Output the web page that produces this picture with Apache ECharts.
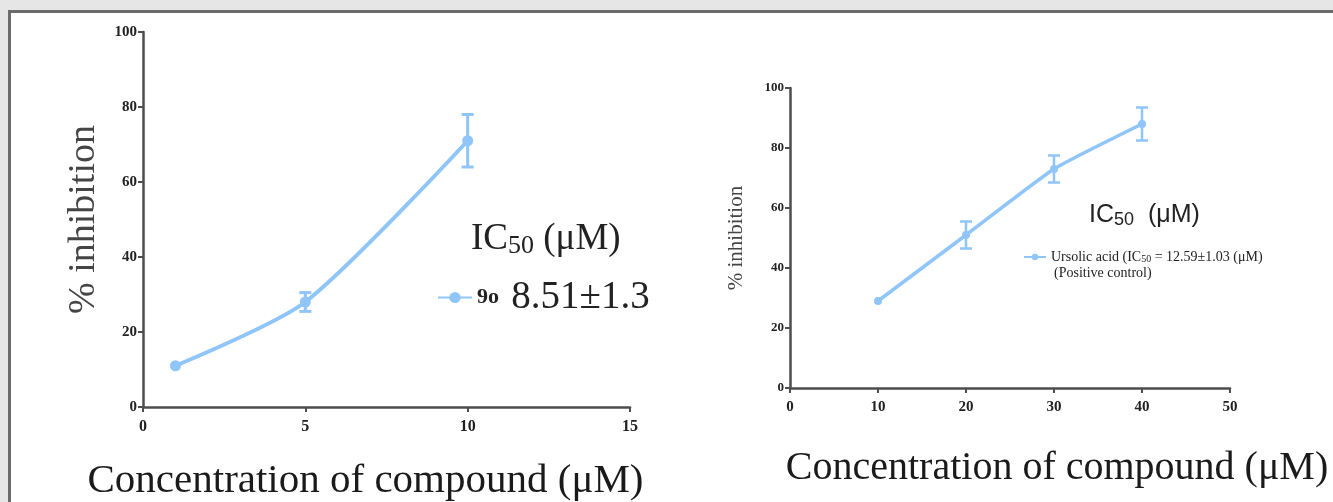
<!DOCTYPE html>
<html>
<head>
<meta charset="utf-8">
<script src="https://cdn.jsdelivr.net/npm/echarts@6/dist/echarts.min.js"></script>
<style>
  html, body { margin: 0; padding: 0; background: #e6e6e6; overflow: hidden; }
  #frame { position: absolute; left: 8px; top: 10px; width: 1400px; height: 600px;
           background: #fff; border-left: 3px solid #6b6b6b; border-top: 3px solid #6b6b6b; }
  #container { position: absolute; left: 0; top: 0; width: 1333px; height: 502px; }
</style>
</head>
<body>
<div id="frame"></div>
<div id="container"></div>
<script>
// compound 9o
var leftConc = [1, 5, 10];
var leftInhib = [11, 28, 71];
var leftErr = [0, 2.5, 7];

// ursolic acid (positive control)
var rightConc = [10, 20, 30, 40];
var rightInhib = [29, 51, 73, 88];
var rightErr = [0, 4.5, 4.5, 5.5];

var blue = '#8fc5f9';
var axisColor = '#4d4d4d';
var serif = '"Liberation Serif", "DejaVu Serif", serif';
var sans = '"Liberation Sans", Arial, sans-serif';

var myChart = echarts.init(document.getElementById('container'));

function errBars(xs, ys, es) {
	return xs.map(function (x, i) {
		return [x, ys[i] - es[i], ys[i] + es[i]];
	});
}

function errRender(cap, lw) {
	return function (params, api) {
		if (api.value(2) - api.value(1) <= 0) return null;
		var top = api.coord([api.value(0), api.value(2)]);
		var bot = api.coord([api.value(0), api.value(1)]);
		var style = { stroke: blue, lineWidth: lw };
		return {
			type: 'group',
			children: [
				{ type: 'line', shape: { x1: top[0], y1: top[1], x2: bot[0], y2: bot[1] }, style: style },
				{ type: 'line', shape: { x1: top[0] - cap, y1: top[1], x2: top[0] + cap, y2: top[1] }, style: style },
				{ type: 'line', shape: { x1: bot[0] - cap, y1: bot[1], x2: bot[0] + cap, y2: bot[1] }, style: style }
			]
		};
	};
}

function xAxis(idx, max, interval, labelSize, nameGap, nameSize, namePad) {
	return {
		type: 'value', gridIndex: idx, min: 0, max: max, interval: interval,
		axisLine: { lineStyle: { color: axisColor, width: 2.5 } },
		axisTick: { lineStyle: { color: axisColor, width: 2 }, length: 5 },
		splitLine: { show: false },
		axisLabel: { fontFamily: serif, fontWeight: 'bold', fontSize: labelSize, color: '#222', margin: 12 },
		name: 'Concentration of compound (μM)', nameLocation: 'middle', nameGap: nameGap,
		nameTextStyle: { fontFamily: serif, fontSize: nameSize, color: '#1a1a1a', padding: namePad }
	};
}

function yAxis(idx, labelSize, nameSize, nameGap) {
	return {
		type: 'value', gridIndex: idx, min: 0, max: 100, interval: 20,
		axisLine: { lineStyle: { color: axisColor, width: 2.5 } },
		axisTick: { lineStyle: { color: axisColor, width: 2 }, length: 5 },
		splitLine: { show: false },
		axisLabel: { fontFamily: serif, fontWeight: 'bold', fontSize: labelSize, color: '#222', margin: 6 },
		name: '% inhibition', nameLocation: 'middle', nameGap: nameGap,
		nameTextStyle: { fontFamily: serif, fontSize: nameSize, color: '#444' }
	};
}

option = {
	animation: false,
	title: [{
		text: 'IC{sub|50} (μM)',
		left: 466, top: 214,
		textStyle: {
			fontFamily: serif, fontSize: 37, fontWeight: 'normal', color: '#222',
			rich: { sub: { fontFamily: serif, fontSize: 26, color: '#222', verticalAlign: 'bottom', padding: [14, 0, 0, 0] } }
		}
	}, {
		text: 'IC{sub|50}  (μM)',
		left: 1084, top: 197,
		textStyle: {
			fontFamily: sans, fontSize: 25, fontWeight: 'normal', color: '#222',
			rich: { sub: { fontFamily: sans, fontSize: 18, color: '#222', verticalAlign: 'bottom', padding: [9, 0, 0, 0] } }
		}
	}, {
		text: '(Positive control)',
		left: 1049, top: 261,
		textStyle: { fontFamily: serif, fontSize: 14, fontWeight: 'normal', color: '#222' }
	}],
	legend: [{
		data: ['9o'],
		left: 432, top: 273,
		itemWidth: 34, itemHeight: 14, itemGap: 12,
		formatter: function () { return '{a|9o} {b|8.51±1.3}'; },
		textStyle: {
			rich: {
				a: { fontFamily: serif, fontWeight: 'bold', fontSize: 22, color: '#222' },
				b: { fontFamily: serif, fontSize: 39, color: '#222', padding: [0, 0, 0, 9] }
			}
		}
	}, {
		data: ['Ursolic acid'],
		left: 1018, top: 245,
		itemWidth: 22, itemHeight: 8, itemGap: 6,
		formatter: function () { return 'Ursolic acid (IC{s|50} = 12.59±1.03 (μM)'; },
		textStyle: {
			fontFamily: serif, fontSize: 14, color: '#222',
			rich: { s: { fontFamily: serif, fontSize: 10, color: '#222', verticalAlign: 'bottom', padding: [5, 0, 0, 0] } }
		}
	}],
	grid: [
		{ left: 143, top: 32, width: 487, height: 375, outerBoundsMode: 'none' },
		{ left: 790, top: 88, width: 440, height: 300, outerBoundsMode: 'none' }
	],
	xAxis: [
		xAxis(0, 15, 5, 16, 54, 41, [0, 42, 0, 0]),
		xAxis(1, 50, 10, 15, 60, 40, [0, 0, 0, 94])
	],
	yAxis: [
		yAxis(0, 15, 38, 40),
		yAxis(1, 13, 21, 43)
	],
	series: [{
		name: '9o',
		type: 'line', xAxisIndex: 0, yAxisIndex: 0,
		smooth: 0.25,
		symbol: 'circle', symbolSize: 11,
		itemStyle: { color: blue },
		lineStyle: { color: blue, width: 4 },
		data: leftConc.map(function (x, i) { return [x, leftInhib[i]]; })
	}, {
		name: '9o err',
		type: 'custom', xAxisIndex: 0, yAxisIndex: 0,
		renderItem: errRender(6, 3),
		data: errBars(leftConc, leftInhib, leftErr)
	}, {
		name: 'Ursolic acid',
		type: 'line', xAxisIndex: 1, yAxisIndex: 1,
		smooth: 0.15,
		symbol: 'circle', symbolSize: 8,
		itemStyle: { color: blue },
		lineStyle: { color: blue, width: 3.5 },
		data: rightConc.map(function (x, i) { return [x, rightInhib[i]]; })
	}, {
		name: 'Ursolic acid err',
		type: 'custom', xAxisIndex: 1, yAxisIndex: 1,
		renderItem: errRender(6, 2.5),
		data: errBars(rightConc, rightInhib, rightErr)
	}]
};

myChart.setOption(option);
</script>
</body>
</html>
